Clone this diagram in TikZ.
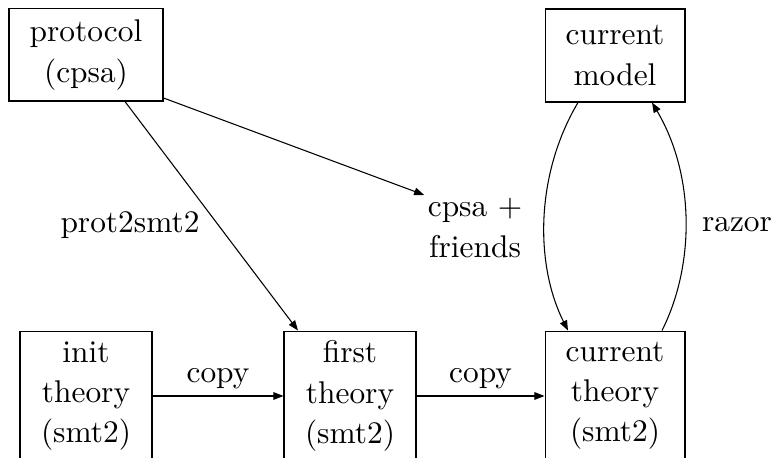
\documentclass[tikz,border=0pt]{standalone}
\usetikzlibrary{arrows.meta,calc}
\begin{document}
\begin{tikzpicture}[x=0.328pt,y=-0.328pt,
  every node/.style={font=\fontsize{10.3}{13.2}\selectfont},
  box/.style={draw,rectangle,align=center,inner sep=0pt,line width=0.35pt},
  lbl/.style={align=center,inner sep=0pt},
  conn/.style={line width=0.35pt,-{Triangle[length=3.3pt,width=2.5pt]}}]
\useasboundingbox (0,0) rectangle (773,458);
\node[box,minimum width=50.5pt,minimum height=30.2pt] (p) at (86,55) {protocol\\(cpsa)};
\node[box,minimum width=45.9pt,minimum height=30.5pt] (m) at (615,55.5) {current\\model};
\node[box,minimum width=43.3pt,minimum height=42.6pt] (i) at (86,396) {init\\theory\\(smt2)};
\node[box,minimum width=43.3pt,minimum height=42.6pt] (f) at (350,396) {first\\theory\\(smt2)};
\node[box,minimum width=45.9pt,minimum height=42.6pt] (c) at (615,396) {current\\theory\\(smt2)};
\node[lbl] (cf) at (475,228) {cpsa +\\friends};
\node[lbl] (ps) at (130,225) {prot2smt2};
\node[lbl] (rz) at (737,225) {razor};
\draw[conn] ($(p.south)+(39,0)$) -- ($(f.north)+(-52,0)$);
\draw[conn] ($(p.east)+(0,43)$) -- ($(cf.west)+(-3,-33)$);
\draw[conn] (i.east) -- node[lbl,above=2pt] (c1) {copy} (f.west);
\draw[conn] (f.east) -- node[lbl,above=2pt] (c2) {copy} (c.west);
\draw[conn] ($(m.south)+(-37,0)$) .. controls (535,175) and (535,265) .. ($(c.north)+(-47,0)$);
\draw[conn] ($(c.north)+(47,0)$) .. controls (695,265) and (695,175) .. ($(m.south)+(37,0)$);
\end{tikzpicture}
\end{document}
